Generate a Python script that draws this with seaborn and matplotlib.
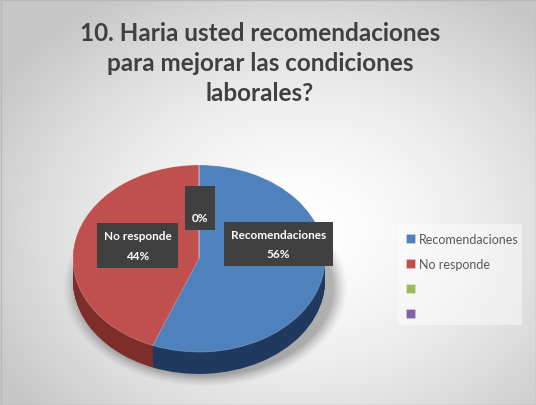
import numpy as np
import matplotlib
matplotlib.use("Agg")
import matplotlib.pyplot as plt
import seaborn as sns
from matplotlib.patches import Ellipse, Rectangle

sns.set_theme(style="white")
plt.rcParams['font.family'] = ['Lato', 'DejaVu Sans']

# ---- data ----
categories = ["Recomendaciones", "No responde", "", ""]
values = [56, 44, 0, 0]
title = "10. Haria usted recomendaciones\npara mejorar las condiciones\nlaborales?"

# ---- styles ----
top_colors = ["#4F81BD", "#C0504D", "#9BBB59", "#8064A2"]
side_colors = ["#1F3A5E", "#7E2D2B", "#5E7634", "#4C3A63"]
label_pos = [(0.631, 0.155), (-0.488, 0.139), (0.008, 0.54)]
depth = 0.235

fig = plt.figure(figsize=(5.36, 4.06), dpi=100)

# background radial gradient
bg = fig.add_axes([0, 0, 1, 1])
yy, xx = np.mgrid[0:406, 0:536]
r = np.sqrt(((xx - 300) / 330.0) ** 2 + ((yy - 230) / 260.0) ** 2)
g = np.clip(1.0 - 0.2 * r ** 1.6, 0.78, 1.0)
bg.imshow(np.dstack([g, g, g]), extent=[0, 536, 406, 0], aspect="auto")
bg.add_patch(Rectangle((0.5, 0.5), 535, 405, fill=False, edgecolor="#b8b8b8", lw=1))
bg.set_xlim(0, 536)
bg.set_ylim(406, 0)
bg.axis("off")

# legend background box
bg.add_patch(Rectangle((398, 225), 124, 101, facecolor="white", alpha=0.45, edgecolor="none"))

ax = fig.add_axes([0.0774, 0.0154, 0.5877, 0.6218])
ax.patch.set_alpha(0)

# soft shadow
for k, a in enumerate(np.linspace(0.02, 0.06, 8)):
    ax.add_patch(Ellipse((0.05, -depth - 0.08), 2.25 - 0.03 * k, 2.1 - 0.03 * k,
                         facecolor="#000000", alpha=a, edgecolor="none", zorder=0))

# side (depth)
nlayers = 30
for i in range(nlayers, 0, -1):
    dy = -depth * i / nlayers
    w, _ = ax.pie(values, colors=side_colors, startangle=90, counterclock=False,
                  center=(0, dy), radius=1.0, normalize=True,
                  wedgeprops=dict(linewidth=0, antialiased=True))
    for p in w:
        p.set_zorder(1)

# top face
wedges, _ = ax.pie(values, colors=top_colors, startangle=90, counterclock=False,
                   center=(0, 0), radius=1.0, normalize=True,
                   wedgeprops=dict(linewidth=0.6, edgecolor=(1, 1, 1, 0.25)))
for p in wedges:
    p.set_zorder(2)

ax.set_aspect("auto")
ax.set_xlim(-1.25, 1.25)
ax.set_ylim(-1.5, 1.2)
ax.axis("off")

total = sum(values)
for i, (x, y) in enumerate(label_pos):
    pct = round(100 * values[i] / total)
    txt = f"{categories[i]}\n{pct}%"
    ax.text(x, y, txt, ha="center", va="center", color="white", fontsize=8.5,
            fontweight="bold", linespacing=1.95, zorder=5,
            bbox=dict(boxstyle="square,pad=0.6", facecolor="#404040", edgecolor="none"))

fig.suptitle(title, x=0.485, y=0.945, fontsize=17.5, fontweight="bold", color="#404040",
             linespacing=1.36, va="top")

leg = fig.legend(wedges, categories, loc="upper left", bbox_to_anchor=(0.737, 0.452),
                 frameon=False, fontsize=9, labelcolor="#595959", handlelength=0.7,
                 handleheight=0.7, handletextpad=0.3, labelspacing=1.05)

fig.savefig("out.png", dpi=100)
